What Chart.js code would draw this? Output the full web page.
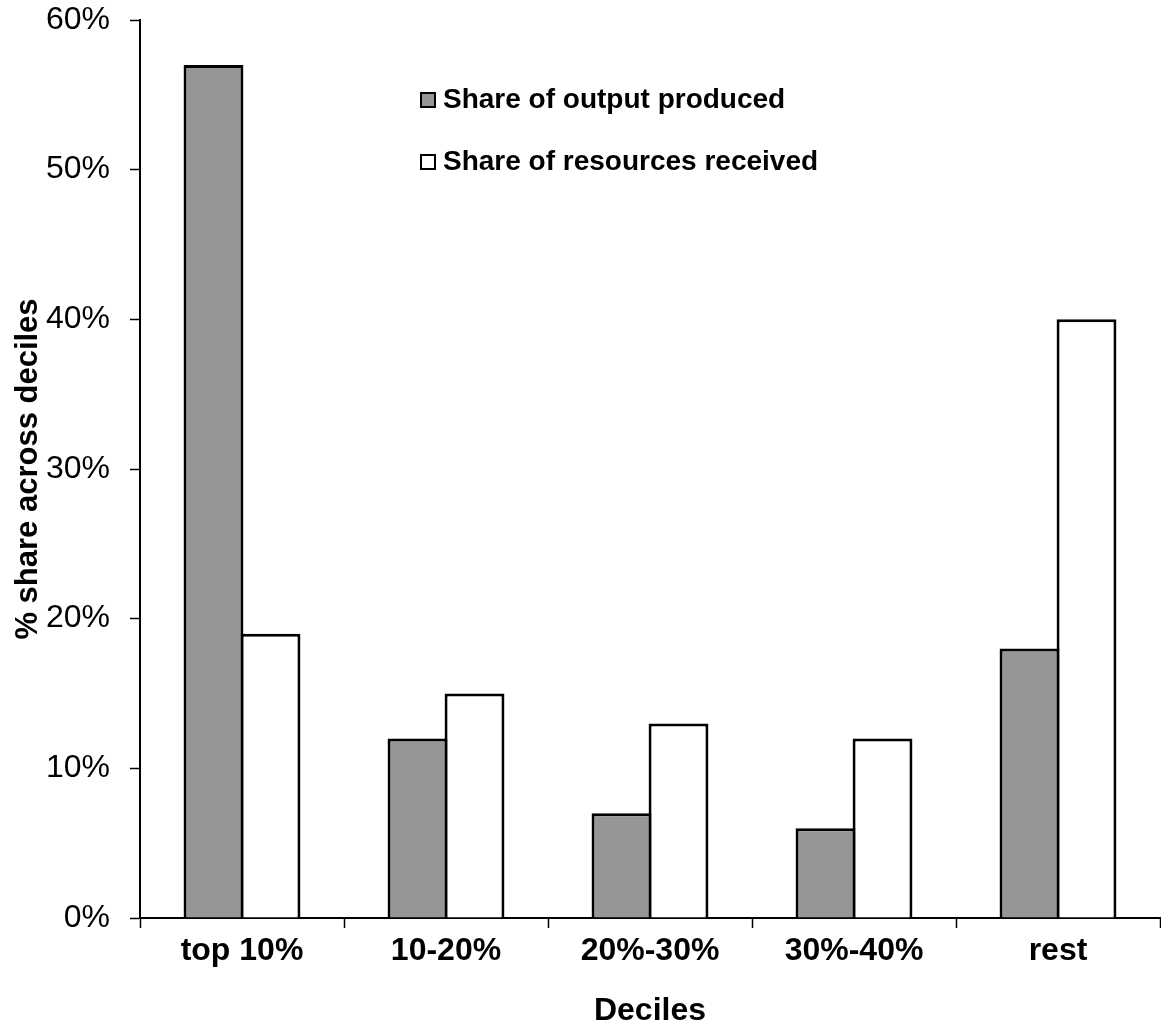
<!DOCTYPE html>
<html>
<head>
<meta charset="utf-8">
<script src="https://cdn.jsdelivr.net/npm/chart.js@4/dist/chart.umd.min.js"></script>
<style>
  html, body { margin: 0; padding: 0; background: #fff; }
  #wrap { width: 1161px; height: 1030px; }
</style>
</head>
<body>
<div id="wrap"><canvas id="decileChart"></canvas></div>
<script>
// data
const categories = ['top 10%', '10-20%', '20%-30%', '30%-40%', 'rest'];
const outputShare = [57, 12, 7, 6, 18];
const resourceShare = [19, 15, 13, 12, 40];
const yTicks = [0, 10, 20, 30, 40, 50, 60];
const seriesNames = ['Share of output produced', 'Share of resources received'];

const FONT = "'Liberation Sans', Arial, sans-serif";

// legend drawn inside the plot, stacked like the original
const insideLegend = {
    id: 'insideLegend',
    afterDraw(chart) {
        const ctx = chart.ctx;
        const x = chart.chartArea.left + 281;
        let y = chart.chartArea.top + 80;
        ctx.save();
        ctx.font = 'bold 28px ' + FONT;
        ctx.textBaseline = 'middle';
        chart.data.datasets.forEach(ds => {
            ctx.fillStyle = ds.backgroundColor;
            ctx.fillRect(x, y - 7, 14, 14);
            ctx.strokeStyle = '#000';
            ctx.lineWidth = 2;
            ctx.strokeRect(x, y - 7, 14, 14);
            ctx.fillStyle = '#000';
            ctx.fillText(ds.label, x + 22, y);
            y += 62;
        });
        ctx.restore();
    }
};

const ctx = document.getElementById('decileChart').getContext('2d');

// bars overlap by one border width so the shared edge is a single line
const barOpts = { borderColor: '#000', borderWidth: 3, categoryPercentage: 0.559, barPercentage: 1.05 };

new Chart(ctx, {
    type: 'bar',
    data: {
        labels: categories,
        datasets: [
            Object.assign({ label: seriesNames[0], data: outputShare, backgroundColor: '#969696' }, barOpts),
            Object.assign({ label: seriesNames[1], data: resourceShare, backgroundColor: '#ffffff' }, barOpts)
        ]
    },
    options: {
        responsive: true,
        maintainAspectRatio: false,
        animation: false,
        layout: { padding: { top: 0, right: 1, left: 0, bottom: 0 } },
        plugins: {
            legend: { display: false },
            tooltip: { enabled: false }
        },
        scales: {
            x: {
                grid: {
                    offset: true,
                    drawOnChartArea: false,
                    color: '#000',
                    tickLength: 10,
                    tickWidth: 1.5
                },
                border: { color: '#000', width: 2 },
                ticks: {
                    color: '#000',
                    font: { family: FONT, size: 32, weight: 'bold' },
                    padding: 4,
                    maxRotation: 0
                },
                title: {
                    display: true,
                    text: 'Deciles',
                    color: '#000',
                    font: { family: FONT, size: 32, weight: 'bold' },
                    padding: { top: 14, bottom: 0 }
                },
                afterFit: s => { s.height = 112; }
            },
            y: {
                min: 0,
                max: 60,
                afterBuildTicks: s => { s.ticks = yTicks.map(v => ({ value: v })); },
                grid: {
                    drawOnChartArea: false,
                    color: '#000',
                    tickLength: 10,
                    tickWidth: 1.5
                },
                border: { color: '#000', width: 2 },
                ticks: {
                    color: '#000',
                    font: { family: FONT, size: 32 },
                    padding: 20,
                    callback: v => v + '%'
                },
                title: {
                    display: true,
                    text: '% share across deciles',
                    color: '#000',
                    font: { family: FONT, size: 31, weight: 'bold' },
                    padding: { top: 10, bottom: 0 }
                },
                afterFit: s => { s.width = 140; s.paddingTop = 20; s.paddingBottom = 0; }
            }
        }
    },
    plugins: [insideLegend]
});
</script>
</body>
</html>
